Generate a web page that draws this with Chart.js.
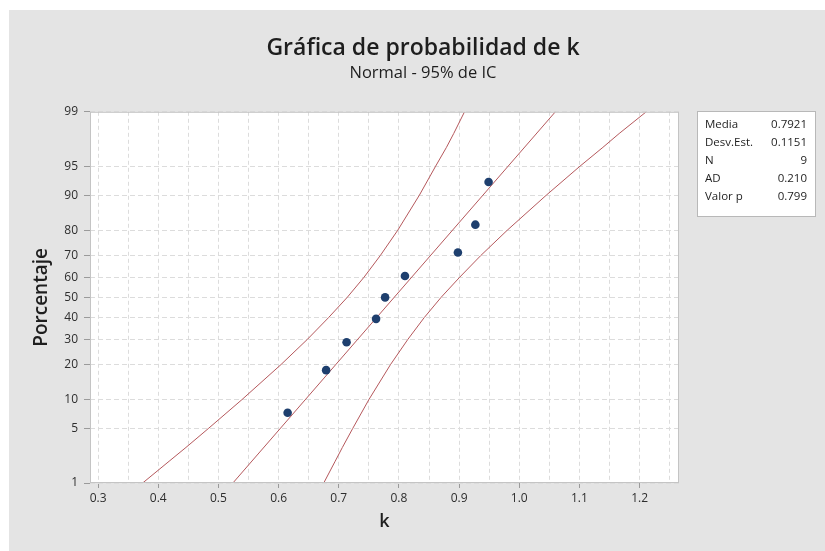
<!DOCTYPE html>
<html>
<head>
<meta charset="utf-8">
<script src="https://cdn.jsdelivr.net/npm/chart.js@4.4.0/dist/chart.umd.min.js"></script>
<style>
html,body{margin:0;padding:0;background:#fff;}
#wrap{width:825px;height:551px;}
</style>
</head>
<body>
<div id="wrap"><canvas id="c" width="825" height="551"></canvas></div>
<script>
// ---- data ----
const percentTicks = [1, 5, 10, 20, 30, 40, 50, 60, 70, 80, 90, 95, 99];
const xTickLabels = ['0.3', '0.4', '0.5', '0.6', '0.7', '0.8', '0.9', '1.0', '1.1', '1.2'];

const pointPct = [7.4, 18.1, 28.7, 39.4, 50.0, 60.6, 71.3, 81.9, 92.6];
const kValues  = [0.615, 0.679, 0.713, 0.762, 0.777, 0.810, 0.898, 0.927, 0.949];

const fitPct = [1, 99];
const fitK   = [0.524, 1.060];

const bandPct = [1, 2, 3, 5, 10, 20, 30, 40, 50, 60, 70, 80, 90, 95, 97, 98, 99];
const lowerK  = [0.374, 0.418, 0.446, 0.483, 0.539, 0.604, 0.648, 0.683, 0.714, 0.742, 0.769, 0.798, 0.834, 0.861, 0.879, 0.891, 0.909];
const upperK  = [0.675, 0.694, 0.706, 0.723, 0.750, 0.786, 0.815, 0.842, 0.870, 0.901, 0.936, 0.980, 1.045, 1.101, 1.139, 1.166, 1.211];

const statLabels = ['Media', 'Desv.Est.', 'N', 'AD', 'Valor p'];
const statValues = ['0.7921', '0.1151', '9', '0.210', '0.799'];

const titleText = 'Gráfica de probabilidad de k';
const subtitleText = 'Normal - 95% de IC';

// ---- normal probability scale transform (inverse normal CDF) ----
function probit(p) {
  const a = [-3.969683028665376e+01, 2.209460984245205e+02, -2.759285104469687e+02, 1.383577518672690e+02, -3.066479806614716e+01, 2.506628277459239e+00];
  const b = [-5.447609879822406e+01, 1.615858368580409e+02, -1.556989798598866e+02, 6.680131188771972e+01, -1.328068155288572e+01];
  const c = [-7.784894002430293e-03, -3.223964580411365e-01, -2.400758277161838e+00, -2.549732539343734e+00, 4.374664141464968e+00, 2.938163982698783e+00];
  const d = [7.784695709041462e-03, 3.224671290700398e-01, 2.445134137142996e+00, 3.754408661907416e+00];
  const pl = 0.02425, ph = 1 - pl;
  let q, r;
  if (p < pl) {
    q = Math.sqrt(-2 * Math.log(p));
    return (((((c[0]*q+c[1])*q+c[2])*q+c[3])*q+c[4])*q+c[5]) / ((((d[0]*q+d[1])*q+d[2])*q+d[3])*q+1);
  } else if (p <= ph) {
    q = p - 0.5; r = q * q;
    return (((((a[0]*r+a[1])*r+a[2])*r+a[3])*r+a[4])*r+a[5])*q / (((((b[0]*r+b[1])*r+b[2])*r+b[3])*r+b[4])*r+1);
  } else {
    q = Math.sqrt(-2 * Math.log(1 - p));
    return -(((((c[0]*q+c[1])*q+c[2])*q+c[3])*q+c[4])*q+c[5]) / ((((d[0]*q+d[1])*q+d[2])*q+d[3])*q+1);
  }
}
const toPts = (ks, ps) => ks.map((k, i) => ({x: k, y: probit(ps[i] / 100)}));

const FONT = "'Open Sans', 'DejaVu Sans', sans-serif";
const lineColor = '#b5585c';

const bgPlugin = {
  id: 'bg',
  beforeDraw(chart) {
    const ctx = chart.ctx, a = chart.chartArea;
    ctx.save();
    ctx.fillStyle = '#ffffff';
    ctx.fillRect(0, 0, chart.width, chart.height);
    ctx.fillStyle = '#e4e4e4';
    ctx.fillRect(9, 10, chart.width - 9, chart.height - 10);
    ctx.fillStyle = '#ffffff';
    ctx.fillRect(a.left, a.top, a.right - a.left, a.bottom - a.top);
    ctx.restore();
  },
  afterDraw(chart) {
    const ctx = chart.ctx, a = chart.chartArea;
    ctx.save();
    ctx.strokeStyle = '#c4c4c4';
    ctx.lineWidth = 1;
    ctx.strokeRect(a.left + 0.5, a.top + 0.5, a.right - a.left - 1, a.bottom - a.top - 1);
    // statistics box
    const bx = 697, by = 111, bw = 118, bh = 105;
    ctx.fillStyle = '#ffffff';
    ctx.fillRect(bx, by, bw, bh);
    ctx.strokeStyle = '#b8b8b8';
    ctx.strokeRect(bx + 0.5, by + 0.5, bw, bh);
    ctx.fillStyle = '#1e1e1e';
    ctx.font = '11.5px ' + FONT;
    ctx.textBaseline = 'middle';
    statLabels.forEach((lab, i) => {
      const y = 125 + i * 18;
      ctx.textAlign = 'left';
      ctx.fillText(lab, bx + 8, y);
      ctx.textAlign = 'right';
      ctx.fillText(statValues[i], bx + bw - 8, y);
    });
    ctx.restore();
  }
};

const xTickVals = [];
xTickLabels.forEach(l => { const v = parseFloat(l); xTickVals.push(v); xTickVals.push(Math.round((v + 0.05) * 100) / 100); });

new Chart(document.getElementById('c'), {
  type: 'scatter',
  data: {
    datasets: [
      { label: 'IC inferior', data: toPts(lowerK, bandPct), showLine: true, borderColor: lineColor, borderWidth: 1, pointRadius: 0, fill: false, order: 3 },
      { label: 'IC superior', data: toPts(upperK, bandPct), showLine: true, borderColor: lineColor, borderWidth: 1, pointRadius: 0, fill: false, order: 3 },
      { label: 'Ajuste', data: toPts(fitK, fitPct), showLine: true, borderColor: lineColor, borderWidth: 1, pointRadius: 0, fill: false, order: 2 },
      { label: 'k', data: toPts(kValues, pointPct), showLine: false, pointRadius: 4.3, pointHoverRadius: 4.3, backgroundColor: '#1e3f6e', borderColor: '#1e3f6e', borderWidth: 0, order: 1 }
    ]
  },
  options: {
    responsive: false,
    animation: false,
    devicePixelRatio: 1,
    layout: { padding: { left: 21, right: 0, top: 0, bottom: 0 } },
    plugins: {
      legend: { display: false },
      tooltip: { enabled: false },
      title: {
        display: true, text: titleText, color: '#1e1e1e',
        font: { family: FONT, size: 23, weight: '600', lineHeight: 1.2 },
        padding: { top: 34.2, bottom: 0 }
      },
      subtitle: {
        display: true, text: subtitleText, color: '#1e1e1e',
        font: { family: FONT, size: 16.5, weight: 'normal', lineHeight: 1.2 },
        padding: { top: 1.7, bottom: 28.5 }
      }
    },
    scales: {
      x: {
        type: 'linear', min: 0.2865, max: 1.2655,
        afterBuildTicks: s => { s.ticks = xTickVals.map(v => ({value: v})); },
        afterFit: s => { s.height = 68; },
        ticks: {
          autoSkip: false, maxRotation: 0, padding: 3, color: '#2e2e2e',
          font: { family: FONT, size: 12 },
          callback: (v, i) => (i % 2 === 0 ? xTickLabels[i / 2] : '')
        },
        grid: {
          color: '#dcdcdc', lineWidth: 1, tickLength: 5,
          tickColor: c => (c.index % 2 === 0 ? '#9a9a9a' : 'rgba(0,0,0,0)')
        },
        border: { display: false, dash: [4, 3] },
        title: {
          display: true, text: 'k', color: '#1e1e1e',
          font: { family: FONT, size: 18, weight: '600', lineHeight: 1.2 },
          padding: { top: 0, bottom: 18.2 }
        }
      },
      y: {
        type: 'linear', min: probit(0.01), max: probit(0.99),
        afterBuildTicks: s => { s.ticks = percentTicks.map(p => ({value: probit(p / 100)})); },
        afterFit: s => { s.width = 69; },
        ticks: {
          autoSkip: false, padding: 6, color: '#2e2e2e',
          font: { family: FONT, size: 12 },
          callback: (v, i) => String(percentTicks[i])
        },
        grid: { color: '#dcdcdc', lineWidth: 1, tickLength: 6, tickColor: '#9a9a9a' },
        border: { display: false, dash: [5, 3] },
        title: {
          display: true, text: 'Porcentaje', color: '#1e1e1e',
          font: { family: FONT, size: 19, weight: '600', lineHeight: 1.2 },
          padding: { top: 9.6, bottom: 0 }
        }
      },
      y2: {
        type: 'linear', position: 'right', display: true,
        afterFit: s => { s.width = 146; },
        ticks: { display: false },
        grid: { display: false, drawTicks: false },
        border: { display: false }
      }
    }
  },
  plugins: [bgPlugin]
});
</script>
</body>
</html>
